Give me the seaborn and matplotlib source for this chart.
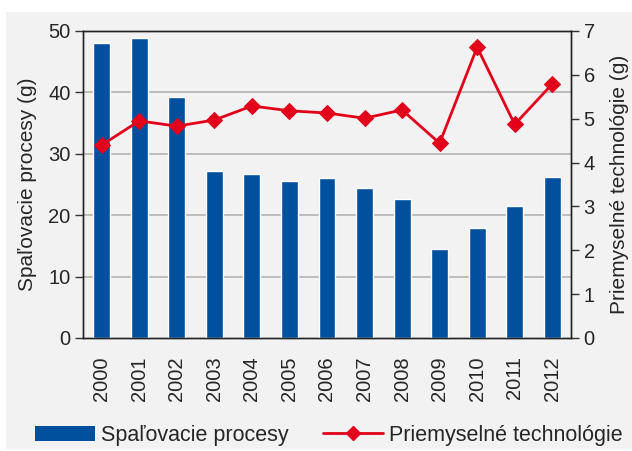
import numpy as np
import pandas as pd
import seaborn as sns
import matplotlib.pyplot as plt
from matplotlib.patches import Rectangle
from matplotlib.lines import Line2D
from matplotlib.patches import Patch

sns.set_style('white')
plt.rcParams['font.family'] = ['Liberation Sans', 'DejaVu Sans']

# data
years = ['2000', '2001', '2002', '2003', '2004', '2005', '2006',
         '2007', '2008', '2009', '2010', '2011', '2012']
spalovacie = [48.0, 48.9, 39.2, 27.2, 26.7, 25.6, 26.1, 24.4, 22.6, 14.5, 17.9, 21.5, 26.2]
priemyselne = [4.40, 4.95, 4.83, 4.97, 5.29, 5.18, 5.13, 5.01, 5.20, 4.44, 6.63, 4.87, 5.79]

blue = '#00509e'
red = '#e2001a'
bg = '#f2f2f2'

df = pd.DataFrame({'rok': years, 'spal': spalovacie, 'priem': priemyselne})

fig = plt.figure(figsize=(6.32, 4.51), dpi=100)
fig.patch.set_facecolor('white')
fig.patches.append(Rectangle((6 / 632, 0.005), 1, 1 - 12 / 451 - 0.005,
                             transform=fig.transFigure, facecolor=bg,
                             edgecolor='none', zorder=-10))

ax = fig.add_axes([0.1313, 0.2506, 0.7722, 0.6807])
ax.set_facecolor(bg)
sns.barplot(data=df, x='rok', y='spal', color=blue, width=0.45,
            saturation=1, ax=ax, zorder=3)
ax.set_xlim(-0.5, 12.5)
ax.set_ylim(0, 50)
ax.set_yticks(range(0, 51, 10))
for v in range(10, 50, 10):
    ax.axhline(v, color='#bcbcbc', lw=1.4, zorder=1)
ax.set_xlabel('')
ax.set_ylabel('Spaľovacie procesy (g)', fontsize=15, labelpad=8)
ax.tick_params(axis='y', direction='out', length=6, width=1, labelsize=14.5,
               color='#333333', pad=3)
ax.set_xticks(np.arange(len(years)))
ax.set_xticklabels(years, rotation=90, fontsize=14.5)
ax.tick_params(axis='x', length=0, pad=13)
ax.set_xticks(np.arange(len(years) + 1) - 0.5, minor=True)
ax.tick_params(axis='x', which='minor', direction='inout', length=12,
               width=1, color='#333333')
for s in ax.spines.values():
    s.set_color('#222222')
    s.set_linewidth(1)

ax2 = ax.twinx()
sns.lineplot(x=np.arange(len(years)), y=df['priem'], color=red, lw=2,
             marker='D', markersize=8, markeredgecolor=red, ax=ax2,
             zorder=4)
ax2.set_ylim(0, 7)
ax2.set_yticks(range(0, 8))
ax2.set_xlim(-0.5, 12.5)
ax2.set_ylabel('Priemyselné technológie (g)', fontsize=15, labelpad=11)
ax2.tick_params(axis='y', direction='out', length=6, width=1, labelsize=14.5,
                color='#333333', pad=3)
for s in ax2.spines.values():
    s.set_color('#222222')
    s.set_linewidth(1)

handles = [Patch(facecolor=blue, edgecolor='none'),
           Line2D([0], [0], color=red, lw=2, marker='D', markersize=7)]
fig.legend(handles, ['Spaľovacie procesy', 'Priemyselné technológie'],
           loc='center', bbox_to_anchor=(0.52, 0.035), ncol=2, frameon=False,
           fontsize=15.5, handlelength=2.8, handletextpad=0.25, columnspacing=1.6)

fig.savefig('out.png', dpi=100, facecolor='white')
